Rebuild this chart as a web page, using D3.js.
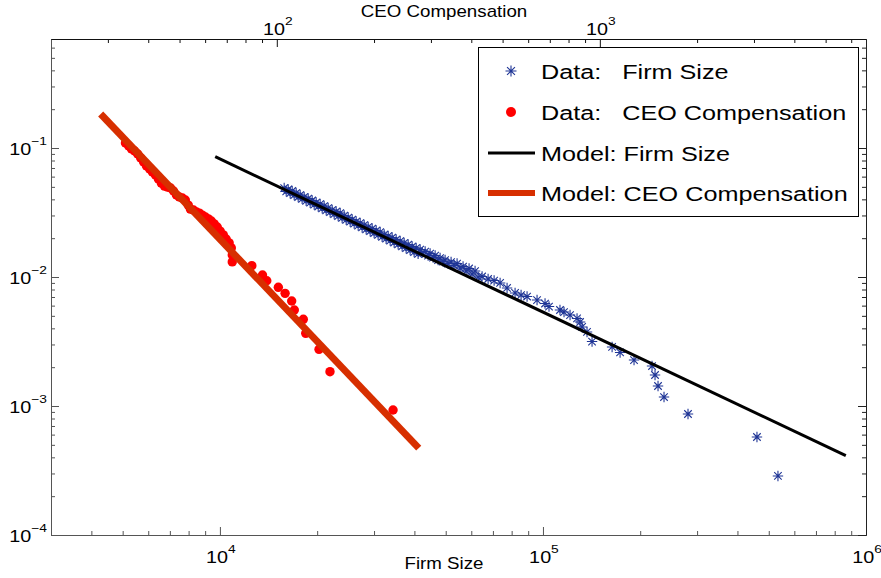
<!DOCTYPE html>
<html>
<head>
<meta charset="utf-8">
<script src="https://cdn.jsdelivr.net/npm/d3@7"></script>
<style>
  body { margin: 0; background: #fff; }
  text { font-family: "Liberation Sans", Arial, sans-serif; white-space: pre; }
</style>
</head>
<body>
<div id="chart"></div>
<script>
// firm size data (bottom axis), ranked tail
const firmSize = [15810, 16270, 16740, 17220, 17720, 18230, 18760, 19300, 19860, 20430,
  21020, 21630, 22260, 22900, 23570, 24250, 24950, 25670, 26410, 27180,
  27960, 28770, 29600, 30460, 31340, 32250, 33180, 34130, 35120, 36140,
  37180, 38260, 39360, 40500, 41670, 43180, 44740, 46370, 48040, 49780,
  51950, 54220, 56580, 59060, 61640, 64800, 67640, 70600, 73680, 77430,
  81980, 85560, 89290, 95880, 101500, 104400, 112900, 116200, 121300, 127500,
  130300, 132200, 136900, 141900, 163700, 173300, 191400, 217600, 222300, 227100,
  237000, 281200, 459700, 533900,
  16040, 16500, 16980, 17470, 17970, 18490, 19030, 19580, 20150, 20730,
  21330, 21940, 22580, 23230, 23900, 24600, 25310, 26040, 26790, 27560,
  28360, 29180, 30020, 30890, 31780, 32700, 33650, 34620, 35620, 36650,
  37710, 38800, 39920, 41070, 42260, 44100, 45710, 47360, 49090, 50870,
  53080, 55410, 57830, 60340, 62990];
const firmProb = [0.04897, 0.04768, 0.04642, 0.04479, 0.04322, 0.04170, 0.04060, 0.03918, 0.03780, 0.03680,
  0.03551, 0.03426, 0.03306, 0.03219, 0.03134, 0.02996, 0.02891, 0.02790, 0.02692, 0.02621,
  0.02529, 0.02440, 0.02376, 0.02292, 0.02232, 0.02134, 0.02078, 0.02023, 0.01952, 0.01900,
  0.01834, 0.01785, 0.01723, 0.01678, 0.01632, 0.01575, 0.01520, 0.01467, 0.01403, 0.01354,
  0.01307, 0.01272, 0.01206, 0.01164, 0.01113, 0.01009, 0.00965, 0.00939, 0.00899, 0.00822,
  0.00752, 0.00725, 0.00706, 0.00663, 0.00623, 0.00590, 0.00555, 0.00535, 0.00507, 0.00477,
  0.00448, 0.00410, 0.00375, 0.00316, 0.00287, 0.00260, 0.002272, 0.002042, 0.001739, 0.001429,
  0.001174, 0.000867, 0.000575, 0.000287,
  0.04609, 0.04463, 0.04314, 0.04170, 0.04031, 0.03898, 0.03767, 0.03642, 0.03520, 0.03402,
  0.03288, 0.03179, 0.03073, 0.02970, 0.02871, 0.02775, 0.02683, 0.02594, 0.02507, 0.02423,
  0.02342, 0.02264, 0.02193, 0.02120, 0.02049, 0.01981, 0.01915, 0.01851, 0.01789, 0.01730,
  0.01672, 0.01616, 0.01562, 0.01510, 0.01540, 0.01464, 0.01415, 0.01354, 0.01318, 0.01272,
  0.01228, 0.01174, 0.01113, 0.01055, 0.01000];

// CEO compensation data (top axis)
const ceoPay = [34.0, 34.8, 35.5, 36.3, 37.1, 37.9, 38.7, 39.5, 40.4, 41.2,
  42.1, 43.0, 43.9, 44.9, 45.9, 46.9, 47.9, 48.9, 49.9, 51.0,
  52.1, 53.2, 54.0, 55.2, 56.4, 57.6, 58.8, 60.1, 61.4, 62.7,
  64.0, 65.4, 66.8, 68.3, 69.7, 71.2, 72.3, 72.8, 72.8,
  83.7, 90.3, 93.1, 101.1, 106.1, 111.2, 113.3, 120.8, 122.9, 135.1,
  146.1, 229.0];
const ceoProb = [0.1094, 0.1036, 0.0982, 0.0948, 0.0899, 0.0837, 0.0779, 0.0725, 0.0688, 0.0652,
  0.0618, 0.0575, 0.0535, 0.0507, 0.0498, 0.0490, 0.0464, 0.0432, 0.0417, 0.0410,
  0.0395, 0.0361, 0.0336, 0.0331, 0.0319, 0.0313, 0.0302, 0.0292, 0.0282, 0.0272,
  0.0258, 0.0244, 0.0227, 0.0212, 0.0197, 0.0184, 0.0168, 0.0148, 0.0131,
  0.01224, 0.01036, 0.00936, 0.00832, 0.00747, 0.00652, 0.00555, 0.00470, 0.00366, 0.00275,
  0.001845, 0.000931];

// model fits (straight lines in log-log)
const firmModelX = [9670, 866000];
const firmModelY = [0.0856, 0.000412];
const ceoModelX = [28.5, 275];
const ceoModelY = [0.1835, 0.000472];

const firmMajor = [1e4, 1e5, 1e6];
const firmExp = ["4", "5", "6"];
const ceoMajor = [1e2, 1e3];
const ceoExp = ["2", "3"];
const probMajor = [1e-4, 1e-3, 1e-2, 1e-1];
const probExp = ["\u22124", "\u22123", "\u22122", "\u22121"];

const legendLabels = ["Data:   Firm Size", "Data:   CEO Compensation", "Model: Firm Size", "Model: CEO Compensation"];

const width = 881, height = 578;
const margin = { left: 51, right: 866, top: 39, bottom: 535 };
const SX = 1.2; // text looks horizontally stretched in the original

const svg = d3.select("#chart").append("svg")
  .attr("width", width)
  .attr("height", height);

svg.append("rect").attr("width", width).attr("height", height).attr("fill", "#fff");

const xFirm = d3.scaleLog().domain([3000, 1e6]).range([margin.left, margin.right]);
const xCeo = d3.scaleLog().domain([20, 20000 / 3]).range([margin.left, margin.right]);
const y = d3.scaleLog().domain([1e-4, 0.7]).range([margin.bottom, margin.top]);

// minor ticks 2..9 of each decade inside the domain
function minors(scale) {
  const [a, b] = scale.domain();
  const out = [];
  for (let e = Math.floor(Math.log10(a)); e < Math.ceil(Math.log10(b)); e++) {
    for (let k = 2; k <= 9; k++) {
      const v = k * Math.pow(10, e);
      if (v > a * 1.001 && v < b * 0.999) out.push(v);
    }
  }
  return out;
}

function drawAxis(axisFn, scale, majors, pos, color) {
  const g = svg.append("g").attr("transform", pos);
  g.append("g").call(axisFn(scale).tickValues(minors(scale)).tickSize(-4).tickSizeOuter(0).tickFormat(""));
  g.append("g").call(axisFn(scale).tickValues(majors).tickSize(-8).tickSizeOuter(0).tickFormat(""));
  g.selectAll("path, line").attr("stroke", color);
  g.selectAll("text").remove();
}

drawAxis(d3.axisBottom, xFirm, firmMajor, `translate(0,${margin.bottom})`, "#555");
drawAxis(d3.axisLeft, y, probMajor, `translate(${margin.left},0)`, "#555");
drawAxis(d3.axisTop, xCeo, ceoMajor, `translate(0,${margin.top})`, "#111");
drawAxis(d3.axisRight, y, probMajor, `translate(${margin.right},0)`, "#222");

function stretched(x, yy, anchor, size, sx = SX) {
  return svg.append("text")
    .attr("transform", `translate(${x},${yy}) scale(${sx},1)`)
    .attr("text-anchor", anchor)
    .attr("font-size", size)
    .attr("fill", "#000");
}

function powerLabel(x, yy, anchor, exp) {
  const t = stretched(x, yy, anchor, 16.5);
  t.append("tspan").text("10");
  t.append("tspan").attr("dy", -10).attr("font-size", 11.5).text(exp);
}

firmMajor.forEach((v, i) => powerLabel(xFirm(v) + 1, 563, "middle", firmExp[i]));
ceoMajor.forEach((v, i) => powerLabel(xCeo(v) + 1, 35, "middle", ceoExp[i]));
probMajor.forEach((v, i) => powerLabel(47, y(v) + 7, "end", probExp[i]));

stretched(444, 569, "middle", 16, 1.17).text("Firm Size");
stretched(444, 17, "middle", 16, 1.17).text("CEO Compensation");

const starColor = "#1f3596";
const dotColor = "#ff0000";
const blackLine = "#000";
const redLine = "#d72f00";

function star(g, cx, cy, r) {
  const d = r * 0.72;
  g.append("path")
    .attr("d", `M${cx - r},${cy}H${cx + r}M${cx},${cy - r}V${cy + r}` +
      `M${cx - d},${cy - d}L${cx + d},${cy + d}M${cx - d},${cy + d}L${cx + d},${cy - d}`)
    .attr("stroke", starColor)
    .attr("stroke-width", 1.1)
    .attr("fill", "none");
}

const plot = svg.append("g");

const stars = plot.append("g");
firmSize.forEach((v, i) => star(stars, xFirm(v), y(firmProb[i]), 5.2));

plot.append("g").selectAll("circle")
  .data(ceoPay)
  .join("circle")
  .attr("cx", (d) => xCeo(d))
  .attr("cy", (d, i) => y(ceoProb[i]))
  .attr("r", 4.7)
  .attr("fill", dotColor);

const firmLine = d3.line().x((d) => xFirm(d[0])).y((d) => y(d[1]));
const ceoLine = d3.line().x((d) => xCeo(d[0])).y((d) => y(d[1]));

plot.append("path")
  .attr("d", firmLine(d3.zip(firmModelX, firmModelY)))
  .attr("stroke", blackLine)
  .attr("stroke-width", 3)
  .attr("fill", "none");

plot.append("path")
  .attr("d", ceoLine(d3.zip(ceoModelX, ceoModelY)))
  .attr("stroke", redLine)
  .attr("stroke-width", 7)
  .attr("fill", "none");

// legend
const lg = svg.append("g");
lg.append("rect")
  .attr("x", 478.5).attr("y", 47.5)
  .attr("width", 380).attr("height", 169)
  .attr("fill", "#fff")
  .attr("stroke", "#000")
  .attr("stroke-width", 1);

const rowY = [71, 112, 153, 193];
star(lg, 511, rowY[0], 5.5);
lg.append("circle").attr("cx", 511).attr("cy", rowY[1]).attr("r", 5).attr("fill", dotColor);
lg.append("line").attr("x1", 488).attr("x2", 535).attr("y1", rowY[2]).attr("y2", rowY[2])
  .attr("stroke", blackLine).attr("stroke-width", 3);
lg.append("line").attr("x1", 488).attr("x2", 535).attr("y1", rowY[3]).attr("y2", rowY[3])
  .attr("stroke", redLine).attr("stroke-width", 6);

legendLabels.forEach((s, i) => {
  stretched(541, rowY[i] + 8, "start", 21).text(s);
});
</script>
</body>
</html>
